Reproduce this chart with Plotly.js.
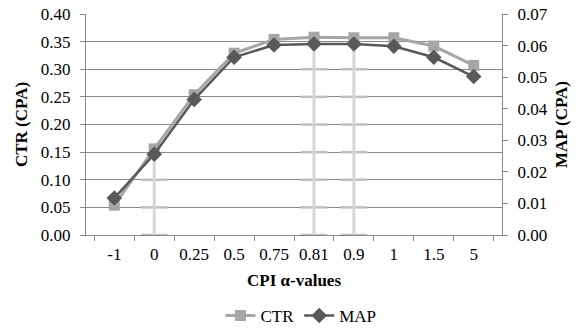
<!DOCTYPE html>
<html>
<head>
<meta charset="utf-8">
<script src="https://cdn.plot.ly/plotly-3.0.1.min.js"></script>
<style>html,body{margin:0;padding:0;background:#fff;}#chart{width:587px;height:329px;}</style>
</head>
<body>
<div id="chart"></div>
<script>
// Data
const categories = ['-1', '0', '0.25', '0.5', '0.75', '0.81', '0.9', '1', '1.5', '5'];
const ctrValues  = [0.054, 0.156, 0.254, 0.329, 0.354, 0.358, 0.357, 0.357, 0.342, 0.307];
const mapValues  = [0.0117, 0.0256, 0.0429, 0.0563, 0.0602, 0.0605, 0.0605, 0.0598, 0.0563, 0.0502];
const dropCategories = ['0', '0.81', '0.9'];
const leftTicks = [0, 0.05, 0.10, 0.15, 0.20, 0.25, 0.30, 0.35, 0.40];

const font = 'Liberation Serif';
const fs = 17;
const gridColor = '#898989';
const leftMax = 0.40, rightMax = 0.07;

const traces = [];
// light drop lines with small crossbars at the grid levels
dropCategories.forEach(function (c) {
  const i = categories.indexOf(c);
  traces.push({
    x: [c, c], y: [0, mapValues[i]], yaxis: 'y2', type: 'scatter', mode: 'lines',
    line: {color: '#d6d6d6', width: 3}, showlegend: false, hoverinfo: 'skip'
  });
  const levels = leftTicks.filter(function (t) { return t <= mapValues[i] * leftMax / rightMax; });
  traces.push({
    x: levels.map(function () { return c; }), y: levels, type: 'scatter', mode: 'markers',
    marker: {symbol: 'line-ew-open', size: 19, color: '#c0c0c0', line: {color: '#c0c0c0', width: 2.5}},
    showlegend: false, hoverinfo: 'skip'
  });
});

traces.push({
  name: 'CTR', x: categories, y: ctrValues, type: 'scatter', mode: 'lines+markers',
  line: {color: '#a6a6a6', width: 3},
  marker: {symbol: 'square', size: 11, color: '#a6a6a6'}
});
traces.push({
  name: 'MAP', x: categories, y: mapValues, yaxis: 'y2', type: 'scatter', mode: 'lines+markers',
  line: {color: '#595959', width: 2.5},
  marker: {symbol: 'diamond', size: 12, color: '#595959'}
});

const layout = {
  width: 587, height: 329,
  margin: {l: 86, r: 85, t: 14, b: 94},
  paper_bgcolor: '#fff', plot_bgcolor: '#fff',
  font: {family: font, size: fs, color: '#000'},
  showlegend: true,
  legend: {orientation: 'h', x: 301 / 587, xanchor: 'center', xref: 'container',
           y: 1 - 316 / 329, yanchor: 'middle', yref: 'container',
           font: {family: font, size: fs, color: '#000'}, traceorder: 'normal'},
  xaxis: {
    type: 'category', categoryorder: 'array', categoryarray: categories,
    showgrid: false, showline: true, linecolor: gridColor, linewidth: 1,
    ticks: 'outside', tickson: 'boundaries', ticklen: 5, tickcolor: gridColor,
    tickfont: {family: font, size: fs, color: '#000'}, ticklabelstandoff: 4,
    title: {text: '<b>CPI α-values</b>', font: {family: font, size: fs, color: '#000'}, standoff: 10},
    automargin: false, fixedrange: true
  },
  yaxis: {
    range: [0, leftMax], tickvals: leftTicks, tickformat: '.2f',
    showgrid: true, gridcolor: gridColor, gridwidth: 1, zeroline: false,
    showline: true, linecolor: gridColor, ticks: 'outside', ticklen: 5, tickcolor: gridColor,
    tickfont: {family: font, size: fs, color: '#000'}, ticklabelstandoff: 6,
    title: {text: '<b>CTR (CPA)</b>', font: {family: font, size: fs, color: '#000'}, standoff: 8},
    automargin: false, fixedrange: true
  },
  yaxis2: {
    overlaying: 'y', side: 'right', range: [0, rightMax], dtick: 0.01, tickformat: '.2f',
    showgrid: false, zeroline: false,
    showline: true, linecolor: gridColor, ticks: 'outside', ticklen: 5, tickcolor: gridColor,
    tickfont: {family: font, size: fs, color: '#000'}, ticklabelstandoff: 6,
    title: {text: '<b>MAP (CPA)</b>', font: {family: font, size: fs, color: '#000'}, standoff: 8},
    automargin: false, fixedrange: true
  }
};

Plotly.newPlot('chart', traces, layout, {staticPlot: true, displayModeBar: false});
</script>
</body>
</html>
